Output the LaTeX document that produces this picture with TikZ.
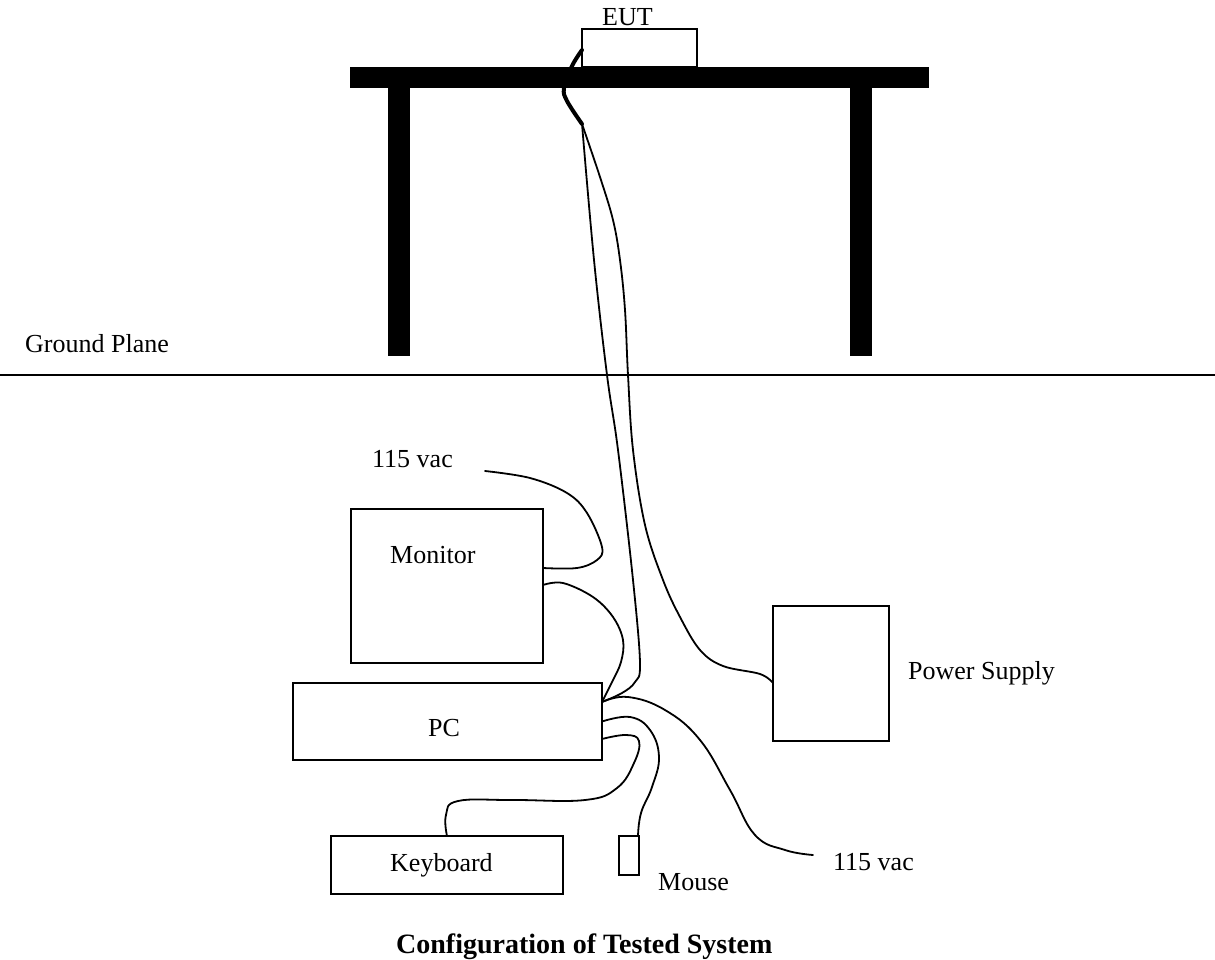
\documentclass[tikz,border=0pt]{standalone}
\usepackage{fontspec}
\setmainfont{Liberation Serif}
\usetikzlibrary{calc,positioning}

\begin{document}
\begin{tikzpicture}[x=1pt,y=-1pt,
  box/.style={draw,line width=1.5pt,inner sep=0,outer sep=0},
  txt/.style={inner sep=0,anchor=base west,font=\fontsize{26}{30}\selectfont},
  cable/.style={line width=1.8pt,line join=round,line cap=round}]
\useasboundingbox (0,0) rectangle (1215,960);

% boxes
\node[box,minimum width=115pt,minimum height=38pt] (eut) at (639.5,48) {};
\node[box,minimum width=192pt,minimum height=154pt] (mon) at (447,586) {};
\node[box,minimum width=309pt,minimum height=77pt] (pc) at (447.5,721.5) {};
\node[box,minimum width=232pt,minimum height=58pt] (kb) at (447,865) {};
\node[box,minimum width=20pt,minimum height=39pt] (mouse) at (629,855.5) {};
\node[box,minimum width=116pt,minimum height=135pt] (ps) at (831,673.5) {};

% labels
\node[txt] (eut-t) at (602,26) {EUT};
\node[txt] (gp-t) at (25,352) {Ground Plane};
\node[txt] (ac1-t) at (372,467) {115 vac};
\node[txt] (mon-t) at (390,563) {Monitor};
\node[txt] (pc-t) at (428,736) {PC};
\node[txt] (kb-t) at (390,871) {Keyboard};
\node[txt] (mouse-t) at (658,890) {Mouse};
\node[txt] (ac2-t) at (833,870) {115 vac};
\node[txt] (ps-t) at (908,679) {Power Supply};
\node[txt,font=\fontsize{28}{32}\selectfont\bfseries] (title) at (396,953)
  {Configuration of Tested System};

% ground plane
\draw[line width=1.6pt] (0,375) -- (1215,375);

% connection points
\coordinate (eut-a) at ([yshift=-2pt]eut.west);
\coordinate (split) at (582,124);
\coordinate (pc-a) at ([yshift=19.5pt]pc.east);
\coordinate (pc-b) at (pc.east);
\coordinate (pc-c) at ([yshift=-17.5pt]pc.east);
\coordinate (mon-a) at ([yshift=18pt]mon.east);
\coordinate (mon-b) at ([yshift=1pt]mon.east);
\coordinate (ps-a) at ([yshift=-9.5pt]ps.west);
\coordinate (kb-a) at (kb.north);
\coordinate (mouse-a) at ([xshift=9pt]mouse.north);
\coordinate (ac1) at (485,471);
\coordinate (ac2) at (813,855);

% EUT cable
\draw[cable,line width=4pt] plot[smooth,tension=.6] coordinates
  {(eut-a) (572,66) (564,88) (567,101) (split)};
\draw[cable] plot[smooth,tension=.6] coordinates
  {(split) (594,260) (607,375) (618,450) (633,580) (640,663) (635,682) (622,693) (pc-a)};
\draw[cable] plot[smooth,tension=.6] coordinates
  {(split) (600,177) (613,220) (620,260) (625,310) (628,375) (633,450) (645,525)
   (663,580) (680,617) (700,650) (723,666) (760,674) (ps-a)};

% table
\fill (350,67) rectangle (929,88);
\fill (388,88) rectangle (410,356);
\fill (850,88) rectangle (872,356);

% monitor
\draw[cable] plot[smooth,tension=.6] coordinates
  {(ac1) (530,478) (567,493) (587,513) (602,547) (597,560) (577,568) (mon-a)};
\draw[cable] plot[smooth,tension=.6] coordinates
  {(mon-b) (563,583) (593,597) (613,617) (623,640) (621,662) (612,682) (pc-a)};

% pc
\draw[cable] plot[smooth,tension=.7] coordinates
  {(pc-a) (628,697) (665,710) (700,740) (730,790) (755,835) (785,850) (ac2)};
\draw[cable] plot[smooth,tension=.7] coordinates
  {(pc-b) (630,717) (650,730) (659,757) (652,787) (641,813) (mouse-a)};
\draw[cable] plot[smooth,tension=.7] coordinates
  {(pc-c) (626,735) (639,741) (634,763) (617,788) (585,800) (513,800) (458,801)
   (446,815) (kb-a)};
\end{tikzpicture}
\end{document}
